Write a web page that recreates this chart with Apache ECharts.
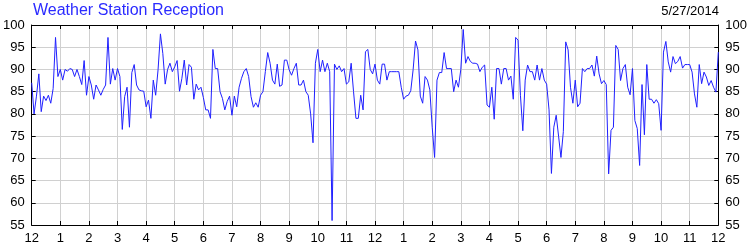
<!DOCTYPE html>
<html><head><meta charset="utf-8">
<script src="https://cdn.jsdelivr.net/npm/echarts@6/dist/echarts.min.js"></script>
<style>html,body{margin:0;padding:0;background:#fff}#c{width:750px;height:250px}</style>
</head><body><div id="c"></div>
<script>
const chartTitle = 'Weather Station Reception';
const chartDate = '5/27/2014';
const hourLabels = ['12','1','2','3','4','5','6','7','8','9','10','11','12','1','2','3','4','5','6','7','8','9','10','11','12'];
const yMin = 55, yMax = 100, yStep = 5;
// reception %, one reading every 5 minutes from midnight to midnight
const reception = [
87,80,84,89,80.5,84,83,84.2,82.4,85.7,97.2,88.4,
90,87.6,90,89.6,90.2,90,88.4,90,88.4,86.6,92,84.2,
88.4,86.5,83.3,86.5,85.4,84.2,85.5,86.5,97.2,86.7,90.2,87.6,
90.2,88.4,76.5,83.9,86,77,89.3,91.1,86.5,85.4,85.2,85.1,
81.6,83.1,79,87.6,84.2,89.9,98,93.6,86.7,90,91.4,89.5,
90.6,92,85.1,88,92.1,86.5,91.1,90.5,83.3,86.7,85.4,86,
83.7,80.9,80.9,79,94.5,90.2,90.2,85,83.5,80.9,82.8,84,
79.7,84,81.6,86,88,89.5,90.2,88.4,83.9,81.5,82.5,81.5,
84.2,85,89.5,93.8,91.4,87.6,86.7,91.2,86.2,86.5,92.1,92.1,
89.9,88.7,90.2,91.4,86.5,86.5,87.6,85,84.2,80,73.5,91.4,
94.5,89.5,92.1,89.5,91.4,89.5,56,91.2,90,90.8,89.5,90.2,
86.7,87.2,91.4,85,79,79,84.2,80.9,94,94.5,90,89,
91.2,87.6,86.7,91.2,91.2,87.6,89.5,89.5,89.5,89.5,89.5,86,
83.3,84,84.2,85.2,90,96.4,94.4,84,82.4,88.4,87.6,85.4,
77,70.2,87.6,89.3,89.3,93.8,90.2,90.2,90.2,85,87.6,86,
90,99,91.4,92.9,91.8,91.4,91.4,91.2,89.5,90.5,91,82,
81.5,86,78.8,90.2,90.2,86.7,90.2,90.2,87.6,88.5,83.3,97.2,
96.6,84.2,76.2,87.6,91,89.5,89.5,87.6,91,87.6,90.2,87.6,
86.7,80.9,66.6,77,79.7,75,70.2,76,96.2,94.4,86,82.4,
87.6,81.6,82.4,90.2,89.5,90.2,90.2,91,88.5,93,89,86.8,
87.5,86.6,66.5,76.3,77,95.4,94.5,87.5,90.2,91.1,86,84.3,
90.2,78.5,76.7,68.4,86.6,75.3,91.1,83.3,83.3,82.4,83.2,82.3,
76.3,93.9,96.3,91.7,89.4,92.9,91.3,91.8,92.9,90.3,91.1,91.1,
91.1,89.4,84.5,81.5,91.1,86.8,89.4,88.3,86.4,87.5,86,84.9,
93.9
];
const times = reception.map((_, i) => {
  const m = i * 5, h = Math.floor(m / 60) % 24;
  return h + ':' + String(m % 60).padStart(2, '0');
});

const font = 'Liberation Sans, Arial, sans-serif';
const chart = echarts.init(document.getElementById('c'), null, {renderer: 'canvas'});
chart.setOption({
  animation: false,
  backgroundColor: '#fff',
  title: [
    {text: chartTitle, left: 33, top: 3, padding: 0,
     textStyle: {color: '#2a2aff', fontSize: 16, fontWeight: 'normal', fontFamily: font}},
    {text: chartDate, right: 31, top: 5, padding: 0,
     textStyle: {color: '#000', fontSize: 13, fontWeight: 'normal', fontFamily: font}}
  ],
  grid: {left: 31, right: 30, top: 25, bottom: 25, containLabel: false},
  xAxis: [{
    type: 'category', data: times, boundaryGap: false, position: 'bottom',
    axisLine: {lineStyle: {color: '#000', width: 1}},
    axisTick: {inside: true, length: 4, interval: 11, lineStyle: {color: '#000'}},
    axisLabel: {interval: 11, color: '#000', fontSize: 13, margin: 7, fontFamily: font,
      formatter: (v, i) => hourLabels[i / 12]},
    splitLine: {show: true, interval: 11, lineStyle: {color: '#d0d0d0', width: 1}}
  }, {
    type: 'category', data: times, boundaryGap: false, position: 'top',
    axisLine: {lineStyle: {color: '#000', width: 1}},
    axisTick: {inside: true, length: 4, interval: 11, lineStyle: {color: '#000'}},
    axisLabel: {show: false}, splitLine: {show: false}
  }],
  yAxis: [{
    type: 'value', min: yMin, max: yMax, interval: yStep, position: 'left',
    axisLine: {show: true, lineStyle: {color: '#000', width: 1}},
    axisTick: {show: true, inside: true, length: 4, lineStyle: {color: '#000'}},
    axisLabel: {color: '#000', fontSize: 13, margin: 7, fontFamily: font},
    splitLine: {show: true, lineStyle: {color: '#d0d0d0', width: 1}}
  }, {
    type: 'value', min: yMin, max: yMax, interval: yStep, position: 'right',
    axisLine: {show: true, lineStyle: {color: '#000', width: 1}},
    axisTick: {show: true, inside: true, length: 4, lineStyle: {color: '#000'}},
    axisLabel: {color: '#000', fontSize: 13, margin: 7, fontFamily: font},
    splitLine: {show: false}
  }],
  series: [{
    type: 'line', data: reception, xAxisIndex: 0, yAxisIndex: 0,
    symbol: 'none', smooth: false,
    lineStyle: {color: '#2020ff', width: 1}
  }]
});
</script></body></html>
